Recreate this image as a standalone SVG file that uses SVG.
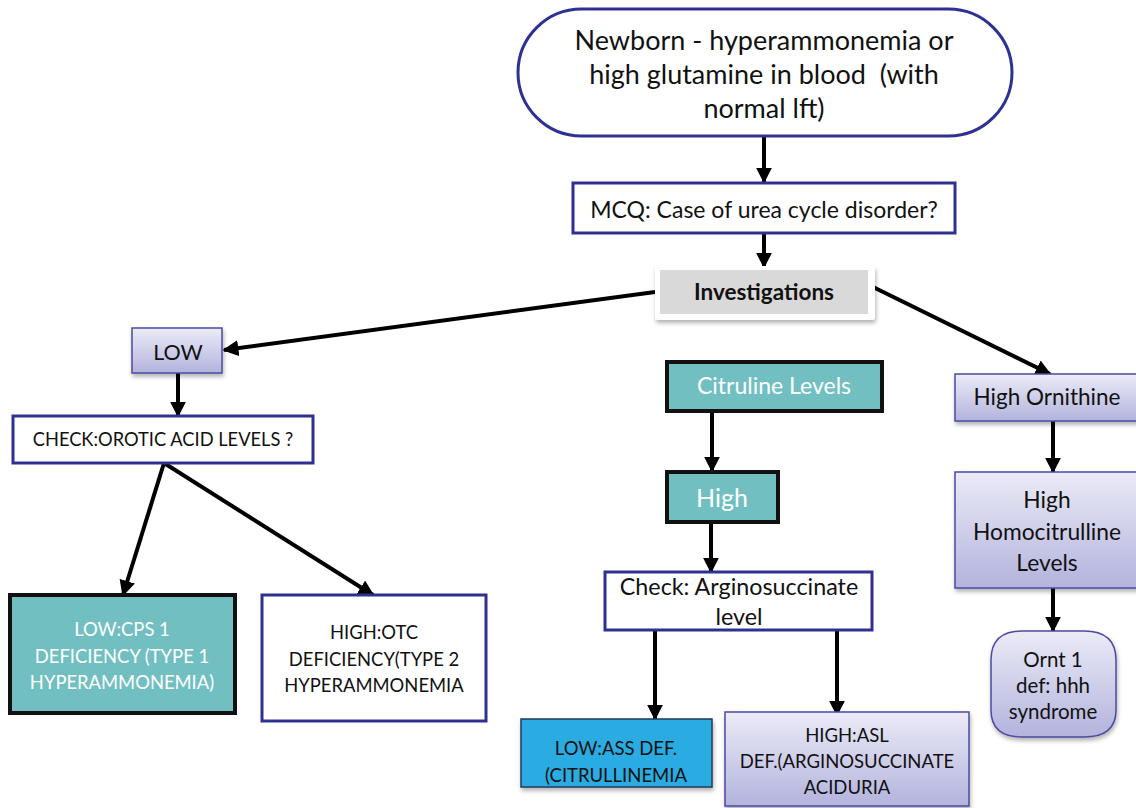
<svg xmlns="http://www.w3.org/2000/svg" width="1136" height="808" viewBox="0 0 1136 808">
<defs>
<linearGradient id="lav" x1="0" y1="0" x2="0" y2="1">
<stop offset="0" stop-color="#EBEBF7"/>
<stop offset="1" stop-color="#B3B3DD"/>
</linearGradient>
<filter id="sh" x="-10%" y="-10%" width="130%" height="140%">
<feDropShadow dx="1" dy="3" stdDeviation="2" flood-color="#000" flood-opacity="0.3"/>
</filter>
<marker id="ah" viewBox="0 0 10 10" refX="9" refY="5" markerWidth="4" markerHeight="4" orient="auto">
<path d="M0,0 L10,5 L0,10 z" fill="#000"/>
</marker>
</defs>
<style>
text{font-family:Lato,"Open Sans","Liberation Sans",sans-serif;text-anchor:middle;fill:#111}
.w{fill:#fff}
.navy{fill:#fff;stroke:#2E3192;stroke-width:3}
.teal{fill:#72BFC2;stroke:#111;stroke-width:4}
.lav{fill:url(#lav);stroke:#4B4BA0;stroke-width:1.5;filter:url(#sh)}
.c{stroke:#000;stroke-width:4;fill:none;marker-end:url(#ah)}
</style>
<g id="connectors">
<line class="c" x1="764" y1="136" x2="764" y2="182"/>
<line class="c" x1="764" y1="233" x2="764" y2="267"/>
<line class="c" x1="655" y1="292" x2="224" y2="350"/>
<line class="c" x1="873" y1="287" x2="1050" y2="374"/>
<line class="c" x1="178" y1="373" x2="178" y2="416"/>
<line class="c" x1="164" y1="463" x2="123" y2="595"/>
<line class="c" x1="164" y1="463" x2="373" y2="595"/>
<line class="c" x1="712" y1="411" x2="712" y2="471"/>
<line class="c" x1="711" y1="522" x2="711" y2="572"/>
<line class="c" x1="655" y1="630" x2="655" y2="719"/>
<line class="c" x1="837" y1="630" x2="837" y2="715"/>
<line class="c" x1="1053" y1="421" x2="1053" y2="472"/>
<line class="c" x1="1053" y1="588" x2="1053" y2="631"/>
</g>
<g id="newborn">
<rect x="518" y="9" width="494" height="127" rx="63.5" ry="63.5" fill="#fff" stroke="#2E3192" stroke-width="3"/>
<text x="764" y="50" font-size="27">Newborn - hyperammonemia or</text>
<text x="764" y="84" font-size="27">high glutamine in blood &#160;(with</text>
<text x="764" y="118" font-size="27">normal lft)</text>
</g>
<g id="mcq">
<rect class="navy" x="573" y="183" width="382" height="50"/>
<text x="764" y="218" font-size="23">MCQ: Case of urea cycle disorder?</text>
</g>
<g id="investigations">
<rect x="655" y="266" width="220" height="54" rx="3" fill="#fff" filter="url(#sh)"/>
<rect x="660" y="270" width="208" height="44" fill="#D9D9D9"/>
<text x="764" y="300" font-size="22.5" font-weight="bold">Investigations</text>
</g>
<g id="low">
<rect class="lav" x="132" y="328" width="90" height="45"/>
<text x="178" y="360" font-size="21.5">LOW</text>
</g>
<g id="check-orotic">
<rect class="navy" x="13" y="416" width="300" height="47"/>
<text x="163" y="446" font-size="18.3">CHECK:OROTIC ACID LEVELS ?</text>
</g>
<g id="cps">
<rect class="teal" x="10" y="595" width="225" height="118"/>
<text class="w" x="122" y="636" font-size="18.4">LOW:CPS 1</text>
<text class="w" x="122" y="663" font-size="18.4">DEFICIENCY (TYPE 1</text>
<text class="w" x="122" y="689" font-size="18.4">HYPERAMMONEMIA)</text>
</g>
<g id="otc">
<rect class="navy" x="262" y="595" width="224" height="126"/>
<text x="374" y="639" font-size="18.4">HIGH:OTC</text>
<text x="374" y="666" font-size="18.4">DEFICIENCY(TYPE 2</text>
<text x="374" y="692" font-size="18.4">HYPERAMMONEMIA</text>
</g>
<g id="citruline">
<rect class="teal" x="667" y="362" width="215" height="49"/>
<text class="w" x="774" y="394" font-size="23">Citruline Levels</text>
</g>
<g id="high">
<rect class="teal" x="667" y="472" width="111" height="50"/>
<text class="w" x="722" y="507" font-size="25">High</text>
</g>
<g id="check-asa">
<rect class="navy" x="605" y="572" width="267" height="58"/>
<text x="739" y="595" font-size="23.3">Check: Arginosuccinate</text>
<text x="739" y="625" font-size="23.3">level</text>
</g>
<g id="ass">
<rect x="521" y="719" width="191" height="68" fill="#29ABE2" stroke="#1F3A5A" stroke-width="1.5" filter="url(#sh)"/>
<text x="616" y="755" font-size="18.5">LOW:ASS DEF.</text>
<text x="616" y="782" font-size="18.5">(CITRULLINEMIA</text>
</g>
<g id="asl">
<rect class="lav" x="725" y="712" width="244" height="94"/>
<text x="847" y="742" font-size="18.5">HIGH:ASL</text>
<text x="847" y="768" font-size="18.5">DEF.(ARGINOSUCCINATE</text>
<text x="847" y="794" font-size="18.5">ACIDURIA</text>
</g>
<g id="ornithine">
<rect class="lav" x="955" y="374" width="190" height="47"/>
<text x="1047" y="405" font-size="22.5">High Ornithine</text>
</g>
<g id="homocitrulline">
<rect class="lav" x="955" y="472" width="190" height="116"/>
<text x="1047" y="508" font-size="22.8">High</text>
<text x="1047" y="540" font-size="22.8">Homocitrulline</text>
<text x="1047" y="571" font-size="22.8">Levels</text>
</g>
<g id="ornt1">
<path class="lav" d="M1022,631 L1084,631 Q1116,631 1116,660 L1116,710 Q1116,737 1084,737 L1022,737 Q991,737 991,710 L991,660 Q991,631 1022,631 Z"/>
<text x="1053" y="667" font-size="20.5">Ornt 1</text>
<text x="1053" y="693" font-size="20.5">def: hhh</text>
<text x="1053" y="719" font-size="20.5">syndrome</text>
</g>
</svg>
